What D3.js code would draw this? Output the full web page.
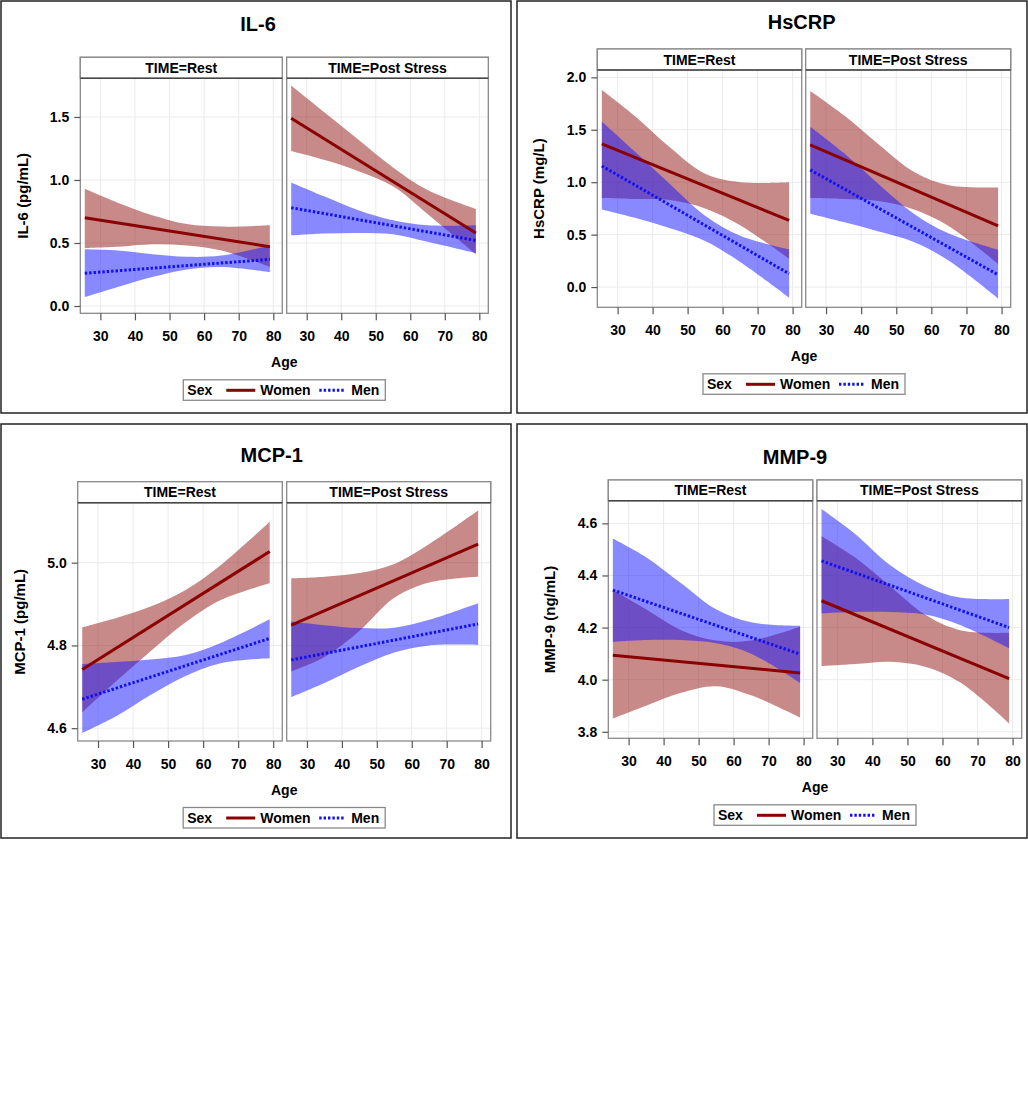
<!DOCTYPE html>
<html>

<head>
    <meta charset="utf-8">
    <title>Inflammatory markers by age and sex</title>
    <style>
    body {
        margin: 0;
        background: #fff;
    }

    svg#chart {
        font-family: "Liberation Sans", Arial, sans-serif;
        font-weight: bold;
    }

    svg#chart text {
        font-family: "Liberation Sans", Arial, sans-serif;
        font-weight: bold;
        fill: #000;
    }

    .box {
        fill: #fff;
        stroke: #222;
        stroke-width: 1.5;
    }

    .grid line {
        stroke: #ebebeb;
        stroke-width: 1;
    }

    .frame {
        fill: none;
        stroke: #8a8a8a;
        stroke-width: 1.3;
    }

    .strip {
        fill: #fff;
        stroke: #8a8a8a;
        stroke-width: 1.3;
    }

    .strip-base {
        stroke: #444;
        stroke-width: 1.6;
    }

    .axis path {
        display: none;
    }

    .axis line {
        stroke: #555;
        stroke-width: 1.2;
    }

    svg#chart .axis text {
        font-size: 14px;
    }

    .band-women {
        fill: #921414;
        fill-opacity: 0.5;
    }

    .band-men {
        fill: #1414ff;
        fill-opacity: 0.5;
    }

    .fit-women {
        fill: none;
        stroke: #8b0000;
        stroke-width: 3;
    }

    .fit-men {
        fill: none;
        stroke: #1010f0;
        stroke-width: 3;
        stroke-dasharray: 2.4, 2;
    }
    </style>
</head>

<body>
    <svg id="chart" width="1028" height="1112"></svg>
    <script src="https://d3js.org/d3.v7.min.js"></script>
    <script>
    var fitAges = [25.5, 79];
    var bandAges = [25.5, 35, 45, 55, 65, 79];
    var ageTicks = [30, 40, 50, 60, 70, 80];
    var times = ['Rest', 'Post Stress'];

    // IL-6 (pg/mL)
    var il6Ticks = [0.0, 0.5, 1.0, 1.5];
    var il6RestWomenFit = [0.70, 0.47];
    var il6RestWomenLo = [0.46, 0.47, 0.49, 0.48, 0.44, 0.31];
    var il6RestWomenHi = [0.93, 0.82, 0.72, 0.65, 0.63, 0.64];
    var il6RestMenFit = [0.26, 0.37];
    var il6RestMenLo = [0.07, 0.15, 0.23, 0.29, 0.31, 0.27];
    var il6RestMenHi = [0.45, 0.44, 0.41, 0.39, 0.40, 0.48];
    var il6PostWomenFit = [1.49, 0.58];
    var il6PostWomenLo = [1.23, 1.16, 1.07, 0.95, 0.73, 0.41];
    var il6PostWomenHi = [1.75, 1.54, 1.32, 1.10, 0.92, 0.77];
    var il6PostMenFit = [0.78, 0.52];
    var il6PostMenLo = [0.56, 0.575, 0.58, 0.57, 0.51, 0.42];
    var il6PostMenHi = [0.98, 0.87, 0.76, 0.68, 0.64, 0.64];

    // HsCRP (mg/L)
    var crpTicks = [0.0, 0.5, 1.0, 1.5, 2.0];
    var crpRestWomenFit = [1.365, 0.635];
    var crpRestWomenLo = [0.85, 0.84, 0.83, 0.75, 0.59, 0.27];
    var crpRestWomenHi = [1.88, 1.63, 1.33, 1.08, 1.00, 1.00];
    var crpRestMenFit = [1.155, 0.127];
    var crpRestMenLo = [0.74, 0.66, 0.56, 0.44, 0.24, -0.10];
    var crpRestMenHi = [1.58, 1.29, 0.98, 0.68, 0.49, 0.36];
    var crpPostWomenFit = [1.355, 0.584];
    var crpPostWomenLo = [0.85, 0.84, 0.82, 0.74, 0.58, 0.22];
    var crpPostWomenHi = [1.87, 1.64, 1.36, 1.10, 0.97, 0.95];
    var crpPostMenFit = [1.117, 0.117];
    var crpPostMenLo = [0.70, 0.62, 0.53, 0.43, 0.25, -0.11];
    var crpPostMenHi = [1.53, 1.28, 0.98, 0.70, 0.51, 0.355];

    // MCP-1 (pg/mL)
    var mcpTicks = [4.6, 4.8, 5.0];
    var mcpRestWomenFit = [4.742, 5.027];
    var mcpRestWomenLo = [4.638, 4.712, 4.786, 4.856, 4.910, 4.950];
    var mcpRestWomenHi = [4.844, 4.866, 4.894, 4.934, 4.994, 5.099];
    var mcpRestMenFit = [4.670, 4.817];
    var mcpRestMenLo = [4.588, 4.628, 4.680, 4.726, 4.757, 4.769];
    var mcpRestMenHi = [4.755, 4.760, 4.766, 4.777, 4.806, 4.863];
    var mcpPostWomenFit = [4.849, 5.045];
    var mcpPostWomenLo = [4.737, 4.772, 4.835, 4.915, 4.952, 4.966];
    var mcpPostWomenHi = [4.962, 4.966, 4.975, 4.997, 5.045, 5.126];
    var mcpPostMenFit = [4.765, 4.852];
    var mcpPostMenLo = [4.675, 4.709, 4.749, 4.783, 4.800, 4.801];
    var mcpPostMenHi = [4.858, 4.849, 4.842, 4.843, 4.862, 4.902];

    // MMP-9 (ng/mL)
    var mmpTicks = [3.8, 4.0, 4.2, 4.4, 4.6];
    var mmpRestWomenFit = [4.094, 4.026];
    var mmpRestWomenLo = [3.851, 3.90, 3.95, 3.975, 3.94, 3.855];
    var mmpRestWomenHi = [4.344, 4.27, 4.19, 4.15, 4.15, 4.203];
    var mmpRestMenFit = [4.344, 4.098];
    var mmpRestMenLo = [4.145, 4.152, 4.152, 4.14, 4.10, 3.988];
    var mmpRestMenHi = [4.542, 4.47, 4.37, 4.27, 4.22, 4.207];
    var mmpPostWomenFit = [4.303, 4.004];
    var mmpPostWomenLo = [4.052, 4.06, 4.069, 4.05, 3.99, 3.832];
    var mmpPostWomenHi = [4.551, 4.47, 4.36, 4.25, 4.19, 4.18];
    var mmpPostMenFit = [4.456, 4.20];
    var mmpPostMenLo = [4.255, 4.26, 4.26, 4.25, 4.21, 4.121];
    var mmpPostMenHi = [4.655, 4.56, 4.44, 4.36, 4.315, 4.31];

    function cellData(wFit, wLo, wHi, mFit, mLo, mHi) {
        return {
            Women: { fit: wFit, lo: wLo, hi: wHi },
            Men: { fit: mFit, lo: mLo, hi: mHi }
        };
    }

    var panels = [{
        title: 'IL-6',
        ylab: 'IL-6 (pg/mL)',
        ticks: il6Ticks,
        cells: [
            cellData(il6RestWomenFit, il6RestWomenLo, il6RestWomenHi, il6RestMenFit, il6RestMenLo, il6RestMenHi),
            cellData(il6PostWomenFit, il6PostWomenLo, il6PostWomenHi, il6PostMenFit, il6PostMenLo, il6PostMenHi)
        ]
    }, {
        title: 'HsCRP',
        ylab: 'HsCRP (mg/L)',
        ticks: crpTicks,
        cells: [
            cellData(crpRestWomenFit, crpRestWomenLo, crpRestWomenHi, crpRestMenFit, crpRestMenLo, crpRestMenHi),
            cellData(crpPostWomenFit, crpPostWomenLo, crpPostWomenHi, crpPostMenFit, crpPostMenLo, crpPostMenHi)
        ]
    }, {
        title: 'MCP-1',
        ylab: 'MCP-1 (pg/mL)',
        ticks: mcpTicks,
        cells: [
            cellData(mcpRestWomenFit, mcpRestWomenLo, mcpRestWomenHi, mcpRestMenFit, mcpRestMenLo, mcpRestMenHi),
            cellData(mcpPostWomenFit, mcpPostWomenLo, mcpPostWomenHi, mcpPostMenFit, mcpPostMenLo, mcpPostMenHi)
        ]
    }, {
        title: 'MMP-9',
        ylab: 'MMP-9 (ng/mL)',
        ticks: mmpTicks,
        cells: [
            cellData(mmpRestWomenFit, mmpRestWomenLo, mmpRestWomenHi, mmpRestMenFit, mmpRestMenLo, mmpRestMenHi),
            cellData(mmpPostWomenFit, mmpPostWomenLo, mmpPostWomenHi, mmpPostMenFit, mmpPostMenLo, mmpPostMenHi)
        ]
    }];

    // where each of the four graphs sits on the page
    var layouts = [
        { box: [1, 1, 510, 412], titleX: 258, titleY: 24, yLabX: 23, cells: [[80.3, 282.3], [286.7, 488.3]], stripTop: 57.3, plotTop: 78.3, plotBot: 313.3, yDomain: [-0.058, 1.807] },
        { box: [517, 1, 510, 412], titleX: 801.7, titleY: 21.7, yLabX: 539, cells: [[597.3, 801.7], [805.7, 1010.7]], stripTop: 49, plotTop: 70, plotBot: 307.3, yDomain: [-0.193, 2.07] },
        { box: [1, 424, 510, 414], titleX: 271.7, titleY: 455, yLabX: 20, cells: [[77.7, 282.3], [286.7, 490.7]], stripTop: 481.7, plotTop: 502.7, plotBot: 741, yDomain: [4.569, 5.145] },
        { box: [517, 424, 510, 414], titleX: 795, titleY: 456.7, yLabX: 550, cells: [[608.3, 812.7], [817, 1021.7]], stripTop: 480, plotTop: 500.7, plotBot: 738.3, yDomain: [3.775, 4.687] }
    ];
    var xDomain = [24.2, 82.6];

    var svg = d3.select('svg#chart');
    var fmt = d3.format('.1f');

    panels.forEach(function(p, i) {
        var L = layouts[i];
        var g = svg.append('g');

        g.append('rect').attr('class', 'box')
            .attr('x', L.box[0]).attr('y', L.box[1])
            .attr('width', L.box[2]).attr('height', L.box[3]);

        g.append('text')
            .attr('x', L.titleX).attr('y', L.titleY).attr('dy', '0.35em')
            .attr('text-anchor', 'middle').style('font-size', '20px')
            .text(p.title);

        var y = d3.scaleLinear().domain(L.yDomain).range([L.plotBot, L.plotTop]);

        p.cells.forEach(function(cell, c) {
            var x0 = L.cells[c][0], x1 = L.cells[c][1];
            var x = d3.scaleLinear().domain(xDomain).range([x0, x1]);
            var clipId = 'clip' + i + '_' + c;

            g.append('clipPath').attr('id', clipId)
                .append('rect')
                .attr('x', x0).attr('y', L.plotTop)
                .attr('width', x1 - x0).attr('height', L.plotBot - L.plotTop);

            // grid
            var grid = g.append('g').attr('class', 'grid');
            grid.selectAll('line.gx').data(ageTicks).enter().append('line')
                .attr('x1', x).attr('x2', x)
                .attr('y1', L.plotTop).attr('y2', L.plotBot);
            grid.selectAll('line.gy').data(p.ticks).enter().append('line')
                .attr('x1', x0).attr('x2', x1)
                .attr('y1', y).attr('y2', y);

            var plot = g.append('g').attr('clip-path', 'url(#' + clipId + ')');

            var area = d3.area()
                .curve(d3.curveCatmullRom.alpha(0.5))
                .x(function(d, k) { return x(bandAges[k]); })
                .y0(function(d) { return y(d[0]); })
                .y1(function(d) { return y(d[1]); });
            var line = d3.line()
                .x(function(d, k) { return x(fitAges[k]); })
                .y(function(d) { return y(d); });

            ['Women', 'Men'].forEach(function(s) {
                var band = d3.zip(cell[s].lo, cell[s].hi);
                plot.append('path').attr('class', 'band-' + s.toLowerCase())
                    .attr('d', area(band));
            });
            ['Women', 'Men'].forEach(function(s) {
                plot.append('path').attr('class', 'fit-' + s.toLowerCase())
                    .attr('d', line(cell[s].fit));
            });

            // cell frame and strip header
            g.append('rect').attr('class', 'frame')
                .attr('x', x0).attr('y', L.stripTop)
                .attr('width', x1 - x0).attr('height', L.plotBot - L.stripTop);
            g.append('rect').attr('class', 'strip')
                .attr('x', x0).attr('y', L.stripTop)
                .attr('width', x1 - x0).attr('height', L.plotTop - L.stripTop);
            g.append('line').attr('class', 'strip-base')
                .attr('x1', x0).attr('x2', x1)
                .attr('y1', L.plotTop).attr('y2', L.plotTop);
            g.append('text')
                .attr('x', (x0 + x1) / 2).attr('y', L.plotTop - 5.5)
                .attr('text-anchor', 'middle').style('font-size', '14px')
                .text('TIME=' + times[c]);

            g.append('g').attr('class', 'axis')
                .attr('transform', 'translate(0,' + L.plotBot + ')')
                .call(d3.axisBottom(x).tickValues(ageTicks).tickSize(7).tickPadding(11));

            if (c === 0) {
                g.append('g').attr('class', 'axis')
                    .attr('transform', 'translate(' + x0 + ',0)')
                    .call(d3.axisLeft(y).tickValues(p.ticks).tickFormat(fmt).tickSize(6).tickPadding(5));
            }
        });

        var cx = (L.cells[0][0] + L.cells[1][1]) / 2;

        g.append('text')
            .attr('transform', 'translate(' + L.yLabX + ',' + ((L.plotTop + L.plotBot) / 2) + ') rotate(-90)')
            .attr('dy', '0.35em').attr('text-anchor', 'middle')
            .style('font-size', '15px')
            .text(p.ylab);

        g.append('text')
            .attr('x', cx).attr('y', L.plotBot + 49).attr('dy', '0.35em')
            .attr('text-anchor', 'middle').style('font-size', '14px')
            .text('Age');

        // legend
        var lx = cx - 101, ly = L.plotBot + 66.5;
        var leg = g.append('g').attr('transform', 'translate(' + lx + ',' + ly + ')');
        leg.append('rect').attr('width', 202).attr('height', 20.5)
            .attr('fill', '#fff').attr('stroke', '#8a8a8a').attr('stroke-width', 1.3);
        leg.append('text').attr('x', 4).attr('y', 15.5).style('font-size', '14px').text('Sex');
        leg.append('line').attr('class', 'fit-women')
            .attr('x1', 43).attr('x2', 72).attr('y1', 10.5).attr('y2', 10.5);
        leg.append('text').attr('x', 77).attr('y', 15.5).style('font-size', '14px').text('Women');
        leg.append('line').attr('class', 'fit-men')
            .attr('x1', 136).attr('x2', 162).attr('y1', 10.5).attr('y2', 10.5);
        leg.append('text').attr('x', 168).attr('y', 15.5).style('font-size', '14px').text('Men');
    });
    </script>
</body>

</html>
